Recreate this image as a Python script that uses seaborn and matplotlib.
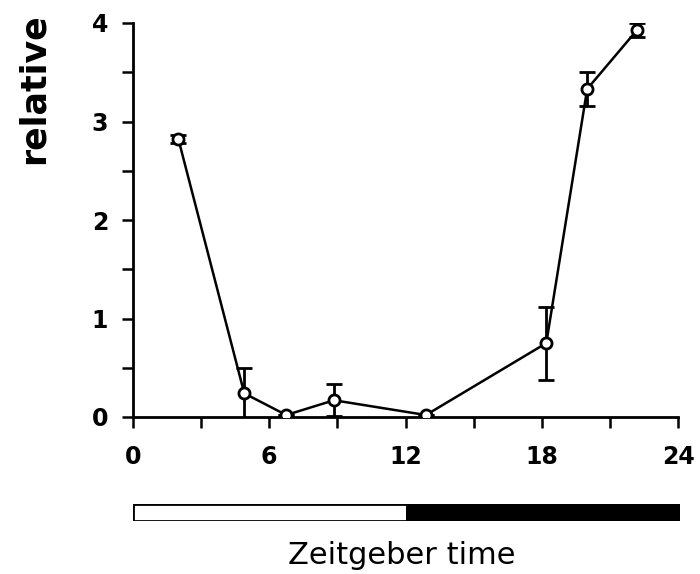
import matplotlib
matplotlib.use("Agg")
import matplotlib.pyplot as plt
import seaborn as sns
import pandas as pd

# Data
zt = [2.0, 4.9, 6.75, 8.85, 12.9, 18.2, 20.0, 22.2]
relative = [2.82, 0.24, 0.02, 0.17, 0.02, 0.75, 3.33, 3.93]
err = [0.04, 0.26, 0.0, 0.16, 0.0, 0.37, 0.17, 0.07]
x_ticks = [0, 6, 12, 18, 24]
y_ticks = [0, 1, 2, 3, 4]
phase_names = ["light", "dark"]
phase_start = [0, 12]
phase_len = [12, 12]
phase_colors = ["white", "black"]

sns.set_theme(style="ticks")
plt.rcParams["font.family"] = ["DejaVu Sans"]
plt.rcParams["text.color"] = "black"
plt.rcParams["xtick.color"] = "black"
plt.rcParams["ytick.color"] = "black"
plt.rcParams["xtick.labelcolor"] = "black"
plt.rcParams["ytick.labelcolor"] = "black"

fig = plt.figure(figsize=(7, 5.74), dpi=100)
ax = fig.add_axes([133 / 700, 1 - 417 / 574, (678 - 133) / 700, (417 - 23) / 574])

df = pd.DataFrame({"zt": zt, "relative": relative, "err": err})
ax.errorbar(df["zt"], df["relative"], yerr=df["err"], fmt="none", ecolor="black",
            elinewidth=2.0, capsize=6, capthick=2.0, zorder=2)
sns.lineplot(data=df, x="zt", y="relative", ax=ax, color="black", linewidth=1.8,
             marker="o", markersize=8, markerfacecolor="white",
             markeredgecolor="black", markeredgewidth=2.0, zorder=3)

ax.set_xlim(0, 24)
ax.set_ylim(0, 4)
ax.set_xticks(x_ticks)
ax.set_yticks(y_ticks)
ax.set_xticks([3, 9, 15, 21], minor=True)
ax.set_yticks([0.5, 1.5, 2.5, 3.5], minor=True)
ax.set_xticklabels([str(t) for t in x_ticks], fontsize=17, fontweight="bold")
ax.set_yticklabels([str(t) for t in y_ticks], fontsize=17, fontweight="bold")
ax.tick_params(axis="both", which="both", direction="out", length=8, width=1.8,
               color="black")
ax.tick_params(axis="x", which="major", pad=12)
ax.tick_params(axis="y", which="major", pad=10)
ax.set_xlabel("")
ax.set_ylabel("")
sns.despine(ax=ax)
for s in ["left", "bottom"]:
    ax.spines[s].set_linewidth(2.0)
    ax.spines[s].set_color("black")

fig.text(34 / 700, 1 - 164 / 574, "relative", rotation=90, fontsize=25,
         fontweight="bold", ha="center", va="bottom", color="black")

# Light/dark bar
bax = fig.add_axes([133 / 700, 1 - 521 / 574, (680 - 133) / 700, 17 / 574])
bax.barh([0, 0], phase_len, left=phase_start, color=phase_colors,
         edgecolor="black", linewidth=2.0, height=1.0)
bax.set_xlim(0, 24)
bax.set_ylim(-0.5, 0.5)
bax.axis("off")

fig.text(402 / 700, 1 - 556 / 574, "Zeitgeber time", fontsize=22,
         family=["DejaVu Sans"], ha="center", va="center", color="black")

fig.savefig("out.png", dpi=100)
